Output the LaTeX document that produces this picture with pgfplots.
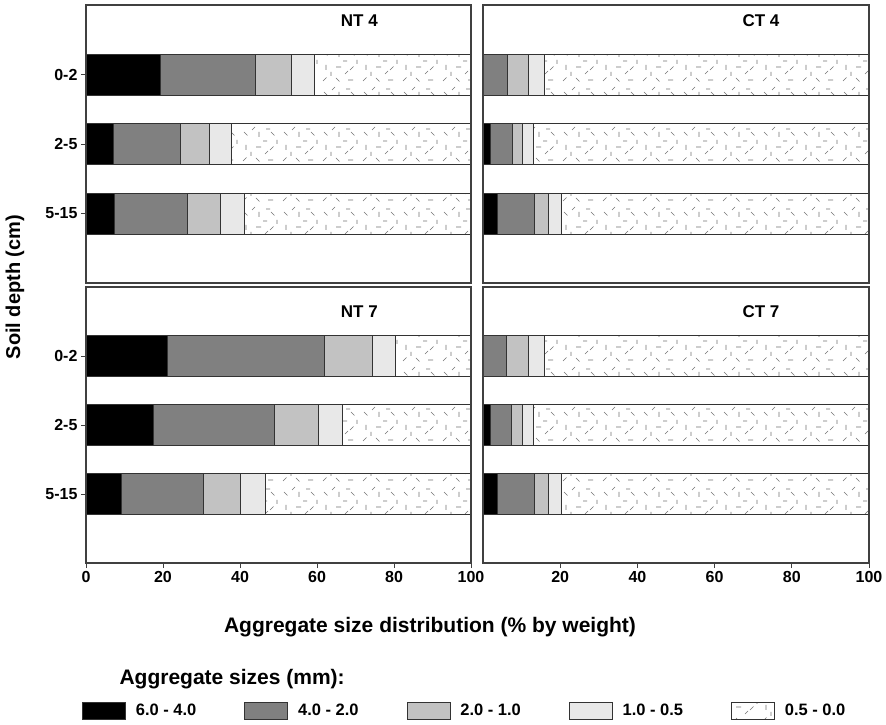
\documentclass[border=0pt]{standalone}
\usepackage{fontspec}
\setmainfont{Liberation Sans}
\usepackage{pgfplots}
\usepackage{pgfplotstable}
\pgfplotsset{compat=1.18}
\usetikzlibrary{patterns}

\pgfdeclarepatternformonly{randdash}{\pgfpoint{-1pt}{-1pt}}{\pgfpoint{41pt}{41pt}}{\pgfpoint{40pt}{40pt}}{
  \pgfsetlinewidth{0.6pt}
  \pgfpathmoveto{\pgfpoint{3pt}{4pt}}\pgfpathlineto{\pgfpoint{6.5pt}{7.5pt}}
  \pgfpathmoveto{\pgfpoint{16pt}{7pt}}\pgfpathlineto{\pgfpoint{19.5pt}{3.5pt}}
  \pgfpathmoveto{\pgfpoint{28pt}{5pt}}\pgfpathlineto{\pgfpoint{33pt}{5pt}}
  \pgfpathmoveto{\pgfpoint{6pt}{15pt}}\pgfpathlineto{\pgfpoint{6pt}{20pt}}
  \pgfpathmoveto{\pgfpoint{16pt}{18pt}}\pgfpathlineto{\pgfpoint{21pt}{18pt}}
  \pgfpathmoveto{\pgfpoint{30pt}{15pt}}\pgfpathlineto{\pgfpoint{33.5pt}{18.5pt}}
  \pgfpathmoveto{\pgfpoint{4pt}{33pt}}\pgfpathlineto{\pgfpoint{7.5pt}{29.5pt}}
  \pgfpathmoveto{\pgfpoint{19pt}{28pt}}\pgfpathlineto{\pgfpoint{19pt}{33pt}}
  \pgfpathmoveto{\pgfpoint{31pt}{33pt}}\pgfpathlineto{\pgfpoint{34.5pt}{29.5pt}}
  \pgfpathmoveto{\pgfpoint{11pt}{9pt}}\pgfpathlineto{\pgfpoint{11pt}{13pt}}
  \pgfpathmoveto{\pgfpoint{23pt}{24pt}}\pgfpathlineto{\pgfpoint{27pt}{24pt}}
  \pgfpathmoveto{\pgfpoint{37pt}{21pt}}\pgfpathlineto{\pgfpoint{37pt}{25pt}}
  \pgfpathmoveto{\pgfpoint{12pt}{35pt}}\pgfpathlineto{\pgfpoint{15pt}{38pt}}
  \pgfpathmoveto{\pgfpoint{25pt}{11pt}}\pgfpathlineto{\pgfpoint{28pt}{14pt}}
  \pgfpathmoveto{\pgfpoint{26pt}{36pt}}\pgfpathlineto{\pgfpoint{30pt}{36pt}}
  \pgfusepath{stroke}
}

\pgfplotstableread{
y a b c d e
1 19.2 24.8 9.3 6.0 40.7
2 7.1 17.4 7.5 5.8 62.2
3 7.4 19.0 8.5 6.1 59.0
}\ntfour
\pgfplotstableread{
y a b c d e
1 0.0 6.2 5.6 4.0 84.2
2 1.8 5.7 2.7 2.8 87.0
3 3.7 9.7 3.5 3.4 79.7
}\ctfour
\pgfplotstableread{
y a b c d e
1 21.0 40.8 12.5 6.0 19.7
2 17.5 31.3 11.5 6.2 33.5
3 9.1 21.5 9.5 6.5 53.4
}\ntseven
\pgfplotstableread{
y a b c d e
1 0.0 6.1 5.7 4.0 84.2
2 1.8 5.6 2.8 2.8 87.0
3 3.7 9.6 3.5 3.4 79.8
}\ctseven

\tikzset{
  s1/.style={fill=black, draw=black!80, line width=0.7pt},
  s2/.style={fill=black!50, draw=black!80, line width=0.7pt},
  s3/.style={fill=black!24, draw=black!80, line width=0.7pt},
  s4/.style={fill=black!9, draw=black!80, line width=0.7pt},
  s5/.style={fill=white, draw=black!80, line width=0.7pt, postaction={pattern=randdash, pattern color=black!55}},
  ptitle/.style={font=\fontsize{17}{19}\selectfont\bfseries},
}
\pgfplotsset{
  panel/.style={
    scale only axis, xbar stacked, bar width=41pt,
    xmin=0, xmax=100, ymin=0, ymax=4, y dir=reverse,
    ytick={1,2,3}, yticklabels={0-2,2-5,5-15},
    xtick={0,20,...,100},
    xtick pos=bottom, ytick pos=left,
    tick align=outside, major tick length=5pt,
    axis on top,
    axis line style={black!75, line width=1.2pt},
    tick style={black!75, line width=0.9pt},
    tick label style={font=\fontsize{16}{18}\selectfont\bfseries},
    /pgf/number format/assume math mode=true,
    legend image code/.code={\draw[#1] (0pt,-8.5pt) rectangle (43pt,8.5pt);},
  },
}

\begin{document}
\begin{tikzpicture}
\path[use as bounding box] (0,0) rectangle (886pt,-725pt);

% NT 4
\begin{axis}[panel, width=385pt, height=278pt, at={(86pt,-5pt)}, anchor=north west,
  xtick=\empty]
  \addplot[s1] table[x=a,y=y]{\ntfour};
  \addplot[s2] table[x=b,y=y]{\ntfour};
  \addplot[s3] table[x=c,y=y]{\ntfour};
  \addplot[s4] table[x=d,y=y]{\ntfour};
  \addplot[s5] table[x=e,y=y]{\ntfour};
  \node[ptitle] at (axis cs:71,0.22) {NT 4};
\end{axis}

% CT 4
\begin{axis}[panel, width=386pt, height=278pt, at={(483pt,-5pt)}, anchor=north west,
  xtick=\empty, ytick=\empty]
  \addplot[s1] table[x=a,y=y]{\ctfour};
  \addplot[s2] table[x=b,y=y]{\ctfour};
  \addplot[s3] table[x=c,y=y]{\ctfour};
  \addplot[s4] table[x=d,y=y]{\ctfour};
  \addplot[s5] table[x=e,y=y]{\ctfour};
  \node[ptitle] at (axis cs:72,0.22) {CT 4};
\end{axis}

% NT 7
\begin{axis}[panel, width=385pt, height=276pt, at={(86pt,-287pt)}, anchor=north west,
  legend columns=5,
  legend style={at={(axis description cs:-0.0104,-0.536)}, anchor=west, draw=none, fill=none,
    inner sep=0pt, font=\fontsize{16.5}{18}\selectfont\bfseries,
    /tikz/every odd column/.append style={column sep=8pt},
    /tikz/every even column/.append style={column sep=46pt}},
  legend cell align=left]
  \addplot[s1] table[x=a,y=y]{\ntseven};
  \addlegendentry{6.0 - 4.0}
  \addplot[s2] table[x=b,y=y]{\ntseven};
  \addlegendentry{4.0 - 2.0}
  \addplot[s3] table[x=c,y=y]{\ntseven};
  \addlegendentry{2.0 - 1.0}
  \addplot[s4] table[x=d,y=y]{\ntseven};
  \addlegendentry{1.0 - 0.5}
  \addplot[s5] table[x=e,y=y]{\ntseven};
  \addlegendentry{0.5 - 0.0}
  \node[ptitle] at (axis cs:71,0.35) {NT 7};
\end{axis}

% CT 7
\begin{axis}[panel, width=386pt, height=276pt, at={(483pt,-287pt)}, anchor=north west,
  xtick={20,40,...,100}, ytick=\empty]
  \addplot[s1] table[x=a,y=y]{\ctseven};
  \addplot[s2] table[x=b,y=y]{\ctseven};
  \addplot[s3] table[x=c,y=y]{\ctseven};
  \addplot[s4] table[x=d,y=y]{\ctseven};
  \addplot[s5] table[x=e,y=y]{\ctseven};
  \node[ptitle] at (axis cs:72,0.35) {CT 7};
\end{axis}

\node[font=\fontsize{20}{22}\selectfont\bfseries, rotate=90] at (15pt,-287pt) {Soil depth (cm)};
\node[font=\fontsize{21}{24}\selectfont\bfseries] at (430pt,-627pt) {Aggregate size distribution (\% by weight)};
\node[font=\fontsize{21}{24}\selectfont\bfseries, anchor=west] at (116pt,-679pt) {Aggregate sizes (mm):};
\end{tikzpicture}
\end{document}
